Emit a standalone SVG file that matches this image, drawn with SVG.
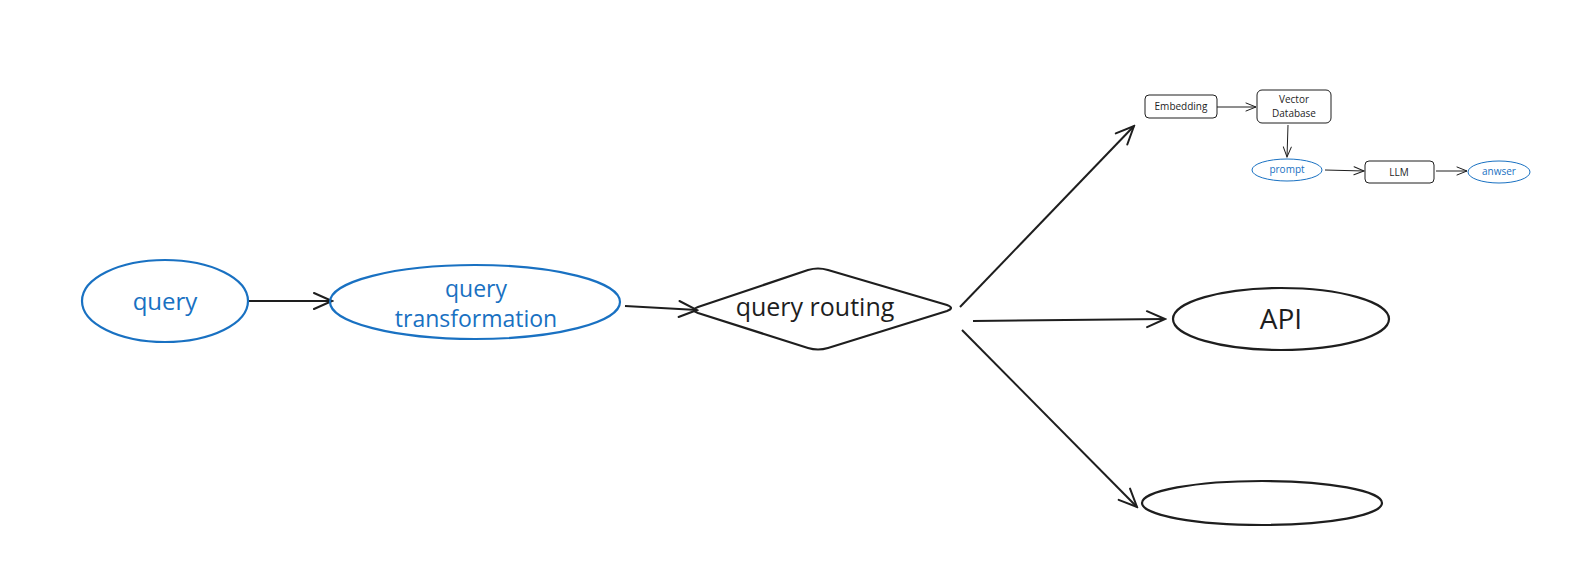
<svg xmlns="http://www.w3.org/2000/svg" width="1570" height="572" viewBox="0 0 1570 572">
<defs>
<marker id="ah" viewBox="-20 -10 22 20" refX="0" refY="0" markerWidth="22" markerHeight="20" markerUnits="userSpaceOnUse" orient="auto">
<path d="M-18,-8 L0,0 L-18,8" fill="none" stroke="#1e1e1e" stroke-width="2" stroke-linecap="round"/>
</marker>
<marker id="ahs" viewBox="-12 -6 14 12" refX="0" refY="0" markerWidth="14" markerHeight="12" markerUnits="userSpaceOnUse" orient="auto">
<path d="M-10,-4 L0,0 L-10,4" fill="none" stroke="#1e1e1e" stroke-width="1" stroke-linecap="round"/>
</marker>
</defs>
<style>
.bg{fill:#ffffff}
.blue{fill:none;stroke:#1971c2;stroke-width:2.2}
.blk{fill:none;stroke:#1e1e1e;stroke-width:2.2}
.blueS{fill:none;stroke:#1971c2;stroke-width:1}
.blkS{fill:none;stroke:#1e1e1e;stroke-width:1}
.t{font-family:"Open Sans","Liberation Sans",sans-serif;text-anchor:middle;dominant-baseline:central}
.tb{fill:#1971c2}
.tk{fill:#1e1e1e}
.c{fill:none;stroke:#1e1e1e;stroke-width:2;marker-end:url(#ah)}
.cs{fill:none;stroke:#1e1e1e;stroke-width:1;marker-end:url(#ahs)}
</style>
<rect class="bg" x="0" y="0" width="1570" height="572"/>

<g id="connectors">
<path class="c" d="M248,301 L332,301"/>
<path class="c" d="M625,306 L697,310"/>
<path class="c" d="M960,307 L1134,126"/>
<path class="c" d="M973,321 L1165,319"/>
<path class="c" d="M962,330 L1137,507"/>
<path class="cs" d="M1217,107 L1256,107"/>
<path class="cs" d="M1288,125 L1287,157"/>
<path class="cs" d="M1325,170 L1364,171"/>
<path class="cs" d="M1436,171 L1467,171"/>
</g>

<g id="node-query">
<ellipse class="blue" cx="165" cy="301" rx="83" ry="41"/>
<text class="t tb" x="165" y="300" font-size="24">query</text>
</g>

<g id="node-query-transformation">
<ellipse class="blue" cx="475" cy="302" rx="145" ry="37"/>
<text class="t tb" x="476" y="288" font-size="23">query</text>
<text class="t tb" x="476" y="318" font-size="23">transformation</text>
</g>

<g id="node-query-routing">
<path class="blk" d="M698,307 L808,270 Q818,267 828,270 L947,305 Q955,308 947,311 L828,348 Q818,351 808,348 L698,313 Q690,310 698,307 Z"/>
<text class="t tk" x="815" y="306" font-size="25">query routing</text>
</g>

<g id="node-api">
<ellipse class="blk" cx="1281" cy="319" rx="108" ry="31"/>
<text class="t tk" x="1281" y="318" font-size="28">API</text>
</g>

<g id="node-empty">
<ellipse class="blk" cx="1262" cy="503" rx="120" ry="22"/>
</g>

<g id="node-embedding">
<rect class="blkS" x="1145" y="95" width="72" height="23" rx="4"/>
<text class="t tk" x="1181" y="106" font-size="10">Embedding</text>
</g>

<g id="node-vector-database">
<rect class="blkS" x="1257" y="90" width="74" height="33" rx="5"/>
<text class="t tk" x="1294" y="99" font-size="10">Vector</text>
<text class="t tk" x="1294" y="113" font-size="10">Database</text>
</g>

<g id="node-prompt">
<ellipse class="blueS" cx="1287" cy="170" rx="35" ry="11"/>
<text class="t tb" x="1287" y="169" font-size="10">prompt</text>
</g>

<g id="node-llm">
<rect class="blkS" x="1365" y="161" width="69" height="22" rx="4"/>
<text class="t tk" x="1399" y="172" font-size="10">LLM</text>
</g>

<g id="node-anwser">
<ellipse class="blueS" cx="1499" cy="172" rx="31" ry="11"/>
<text class="t tb" x="1499" y="171" font-size="10">anwser</text>
</g>
</svg>
